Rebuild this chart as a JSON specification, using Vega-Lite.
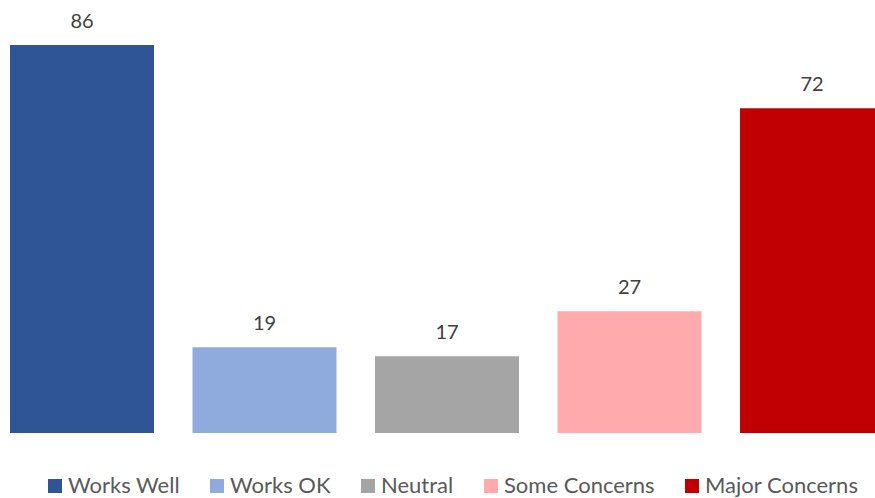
{
  "$schema": "https://vega.github.io/schema/vega-lite/v6.json",
  "width": 865,
  "height": 433,
  "autosize": "none",
  "padding": {"left": 10, "top": 0, "right": 0, "bottom": 65},
  "background": "white",
  "config": {"view": {"stroke": null}, "font": "Lato"},
  "data": {"values": [
    {"category": "Works Well", "value": 86},
    {"category": "Works OK", "value": 19},
    {"category": "Neutral", "value": 17},
    {"category": "Some Concerns", "value": 27},
    {"category": "Major Concerns", "value": 72}
  ]},
  "encoding": {
    "x": {"field": "category", "type": "nominal", "sort": null, "axis": null,
          "scale": {"range": [0, 874], "paddingInner": 0.211, "paddingOuter": 0}},
    "y": {"field": "value", "type": "quantitative", "axis": null,
          "scale": {"domain": [0, 96], "nice": false}}
  },
  "layer": [
    {"mark": {"type": "bar", "clip": true},
     "encoding": {
       "color": {"field": "category", "type": "nominal", "sort": null,
         "scale": {"domain": ["Works Well", "Works OK", "Neutral", "Some Concerns", "Major Concerns"],
                   "range": ["#2F5597", "#8FAADC", "#A5A5A5", "#FFABAE", "#C00000"]},
         "legend": {"orient": "none", "direction": "horizontal", "legendX": 34, "legendY": 475,
                    "padding": 0, "title": null, "symbolType": "square", "symbolSize": 196, "symbolStrokeWidth": 0,
                    "labelFontSize": 22, "labelColor": "#595959", "labelFont": "Lato",
                    "labelOffset": 2, "columnPadding": 26, "labelLimit": 300}}
     }},
    {"mark": {"type": "text", "baseline": "bottom", "dy": -13, "fontSize": 20, "color": "#404040", "font": "Lato"},
     "encoding": {"text": {"field": "value", "type": "quantitative"}}}
  ]
}
